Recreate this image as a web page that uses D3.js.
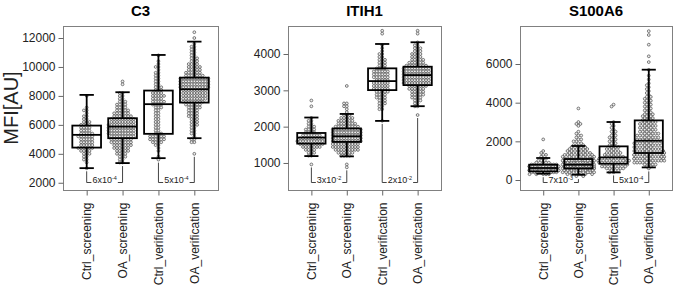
<!DOCTYPE html>
<html>
<head>
<meta charset="utf-8">
<script src="https://cdn.jsdelivr.net/npm/d3@7"></script>
<style>
  body { margin: 0; background: #fff; }
  svg { display: block; font-family: "Liberation Sans", Arial, sans-serif; }
</style>
</head>
<body>
<div id="chart"></div>
<script>
"use strict";

// groups on the x axis (same in every panel)
var groups = ["Ctrl_screening", "OA_screening", "Ctrl_verification", "OA_verification"];
var proteins = ["C3", "ITIH1", "S100A6"];

// y ranges and tick labels
var c3Domain = [1500, 12830];
var itih1Domain = [256, 4771];
var s100a6Domain = [-517, 7966];
var c3Ticks = [2000, 4000, 6000, 8000, 10000, 12000];
var itih1Ticks = [1000, 2000, 3000, 4000];
var s100a6Ticks = [0, 2000, 4000, 6000];

// box stats per group: [lower whisker, q1, median, q3, upper whisker]
var c3Box = [[3010, 4430, 5310, 5950, 8070], [3360, 5080, 5880, 6460, 8255],
             [3700, 5380, 7430, 8370, 10830], [5080, 7540, 8460, 9260, 11750]];
var itih1Box = [[1190, 1533, 1700, 1826, 2251], [1182, 1580, 1735, 1950, 2350],
                [2158, 3006, 3254, 3605, 4276], [2563, 3144, 3420, 3650, 4323]];
var s100a6Box = [[326, 445, 620, 792, 1138], [274, 600, 792, 1086, 1760],
                 [393, 843, 1170, 1740, 3000], [652, 1397, 2033, 3083, 5706]];

// samples per value bin: first bin value, bin width, counts
var c3Step = 200;
var c3Start = [3000, 3400, 3600, 4000];
var c3Counts = [
  [1,0,1,2,2,3,4,6,5,5,5,6,5,4,4,4,3,2,2,1,2,1,0,0,0,1],
  [2,2,3,4,5,6,7,8,8,9,10,10,10,10,9,9,7,6,5,4,4,3,2,2,2,0,0,1,1],
  [1,1,0,1,1,2,4,6,6,3,2,2,2,2,2,2,2,2,3,4,5,4,5,4,3,3,2,2,2,2,2,1,2,1,1,0,1],
  [1,0,0,0,2,2,1,2,2,2,3,3,3,4,4,4,5,6,8,9,9,9,9,11,11,11,11,7,6,5,5,4,3,3,2,2,2,2,1,0,1,0,1]
];
var itih1Step = 80;
var itih1Start = [960, 880, 2160, 2320];
var itih1Counts = [
  [1,0,0,2,3,4,7,9,10,9,7,4,4,3,2,2,1,0,0,0,1,0,1],
  [1,1,0,0,4,6,9,10,10,11,11,11,11,11,9,7,6,5,3,1,1,2,2,0,0,0,0,0,1],
  [1,0,0,0,2,2,3,3,4,4,5,6,6,6,5,6,6,6,4,3,3,3,2,2,1,1,1,0,0,0,1,1],
  [1,0,0,2,2,3,4,5,5,6,7,10,10,10,10,10,10,8,6,5,4,4,3,3,2,1,0,0,1,1]
];
var s100a6Step = 100;
var s100a6Start = [300, 200, 400, 600];
var s100a6Counts = [
  [5,10,12,12,12,7,4,2,2,1,2,1,1,0,0,0,0,0,1],
  [2,6,10,14,20,22,18,15,13,10,8,7,6,5,5,4,3,2,2,2,1,2,1,1,0,0,1,2,1,0,0,0,0,0,0,1],
  [2,3,5,6,6,7,8,7,5,4,4,3,3,3,2,2,2,2,2,2,1,2,1,1,1,1,1,0,0,0,0,0,0,0,1,1],
  [1,2,4,6,7,8,8,8, 7,7,6,6,6,6,6, 5,5,5,5,4,4,4,4,4,4, 3,3,3,3,2,2,2,2,2,
   2,2,2,2,1,1,1,1,1,1, 1,0,1,0,1,0,0,1,0,0, 0,1,0,0,1,0,0,0,0,0, 1,0,0,0,0,1,0,1]
];

// p-values between groups 1-2 and 3-4: [mantissa, exponent]
var c3P = [[6, -4], [5, -4]];
var itih1P = [[3, -2], [2, -2]];
var s100a6P = [[7, -3], [5, -4]];

var width = 675, height = 290;
var plotTop = 26, plotBottom = 190;

var svg = d3.select("#chart").append("svg")
  .attr("width", width).attr("height", height);

// simple beeswarm: place each point as close to the centre as it can go, then wrap
var swarm = function(values, y, d, half) {
  var pts = values.map(function(v) { return { v: v, y: y(v), x: 0 }; })
                  .sort(function(a, b) { return a.y - b.y; });
  var placed = [];
  pts.forEach(function(p) {
    var near = placed.filter(function(q) { return Math.abs(q.y - p.y) < d; });
    var cands = [0];
    near.forEach(function(q) {
      var dx = Math.sqrt(d * d - (q.y - p.y) * (q.y - p.y));
      cands.push(q.x + dx, q.x - dx);
    });
    cands.sort(function(a, b) { return Math.abs(a) - Math.abs(b) || a - b; });
    for (var i = 0; i < cands.length; i++) {
      var c = cands[i];
      var ok = near.every(function(q) {
        return (q.x - c) * (q.x - c) + (q.y - p.y) * (q.y - p.y) >= d * d - 1e-6;
      });
      if (ok) { p.x = c; break; }
    }
    placed.push(p);
  });
  placed.forEach(function(p) {
    if (Math.abs(p.x) > half) {
      p.x = (((p.x + half) % (2 * half)) + 2 * half) % (2 * half) - half;
    }
  });
  return placed;
};

var drawPanel = function(left, right, name, domain, ticks, box, start, step, counts, pvals, yLabel) {
  var x = d3.scaleLinear().domain([0.34, 4.66]).range([left, right]);
  var y = d3.scaleLinear().domain(domain).range([plotBottom, plotTop]);
  var unit = x(2) - x(1);
  var g = svg.append("g");

  // title
  g.append("text")
   .attr("x", (left + right) / 2).attr("y", 16)
   .attr("text-anchor", "middle")
   .attr("font-size", 15).attr("font-weight", "bold")
   .text(name);

  // points
  counts.forEach(function(cs, gi) {
    var vals = [];
    cs.forEach(function(c, i) {
      for (var k = 0; k < c; k++) vals.push(start[gi] + i * step);
    });
    var pts = swarm(vals, y, 2.8, 16);
    g.append("g").selectAll("circle")
     .data(pts)
     .enter()
     .append("circle")
     .attr("cx", function(d) { return x(gi + 1) + d.x; })
     .attr("cy", function(d) { return d.y; })
     .attr("r", 1.4)
     .attr("fill", "#eeeeee")
     .attr("stroke", "#4a4a4a")
     .attr("stroke-width", 0.7);
  });

  // boxes
  var bw = 0.4 * unit, cw = 0.2 * unit;
  box.forEach(function(b, gi) {
    var cx = x(gi + 1);
    var bg = g.append("g").attr("stroke", "#000").attr("stroke-width", 1.8).attr("fill", "none");
    bg.append("line").attr("x1", cx).attr("x2", cx).attr("y1", y(b[0])).attr("y2", y(b[1]));
    bg.append("line").attr("x1", cx).attr("x2", cx).attr("y1", y(b[3])).attr("y2", y(b[4]));
    bg.append("line").attr("x1", cx - cw).attr("x2", cx + cw).attr("y1", y(b[0])).attr("y2", y(b[0]));
    bg.append("line").attr("x1", cx - cw).attr("x2", cx + cw).attr("y1", y(b[4])).attr("y2", y(b[4]));
    bg.append("rect").attr("x", cx - bw).attr("width", 2 * bw)
      .attr("y", y(b[3])).attr("height", y(b[1]) - y(b[3]));
    bg.append("line").attr("x1", cx - bw).attr("x2", cx + bw).attr("y1", y(b[2])).attr("y2", y(b[2]));
  });

  // p-value brackets
  var by = plotBottom - 7.5;
  pvals.forEach(function(p, pi) {
    var a = pi * 2, b = a + 1;
    var xa = x(a + 1), xb = x(b + 1);
    var lowA = Math.min(box[a][0], start[a]), lowB = Math.min(box[b][0], start[b]);
    var t = g.append("text")
      .attr("x", (xa + xb) / 2).attr("y", by + 0.5)
      .attr("text-anchor", "middle")
      .attr("font-size", 9).attr("fill", "#222");
    t.append("tspan").text(p[0] + "x10");
    t.append("tspan").attr("font-size", 5.5).attr("dy", -3.5).text("-" + Math.abs(p[1]));
    var tw = t.node().getComputedTextLength();
    var tl = (xa + xb) / 2 - tw / 2 - 1, tr = (xa + xb) / 2 + tw / 2 + 1;
    var lg = g.append("g").attr("stroke", "#444").attr("stroke-width", 1).attr("fill", "none");
    lg.append("path").attr("d", "M" + xa + "," + (y(lowA) + 3) + "V" + by + "H" + tl);
    lg.append("path").attr("d", "M" + xb + "," + (y(lowB) + 3) + "V" + by + "H" + tr);
  });

  // frame
  g.append("rect")
   .attr("x", left + 0.5).attr("y", plotTop + 0.5)
   .attr("width", right - left).attr("height", plotBottom - plotTop)
   .attr("fill", "none").attr("stroke", "#808080").attr("stroke-width", 1);

  // y axis
  var ya = g.append("g")
    .attr("transform", "translate(" + (left + 0.5) + ",0)")
    .call(d3.axisLeft(y).tickValues(ticks).tickSize(5).tickPadding(3).tickFormat(d3.format("d")));
  ya.select(".domain").remove();
  ya.selectAll("line").attr("stroke", "#666");
  ya.selectAll("text").attr("font-size", 12).attr("fill", "#222")
    .attr("font-family", "Liberation Sans, Arial, sans-serif");

  // x axis
  var xa2 = g.append("g")
    .attr("transform", "translate(0," + (plotBottom + 0.5) + ")")
    .call(d3.axisBottom(x).tickValues([1, 2, 3, 4]).tickSize(5)
            .tickFormat(function(d) { return groups[d - 1]; }));
  xa2.select(".domain").remove();
  xa2.selectAll("line").attr("stroke", "#666");
  xa2.selectAll("text")
     .attr("font-size", 12).attr("fill", "#222")
     .attr("font-family", "Liberation Sans, Arial, sans-serif")
     .attr("transform", "rotate(-90)")
     .attr("text-anchor", "end")
     .attr("x", -12).attr("y", 0).attr("dy", "0.35em");

  if (yLabel) {
    g.append("text")
     .attr("transform", "translate(18," + ((plotTop + plotBottom) / 2) + ") rotate(-90)")
     .attr("text-anchor", "middle")
     .attr("font-size", 20).attr("fill", "#222")
     .text(yLabel);
  }
};

drawPanel(63, 218, proteins[0], c3Domain, c3Ticks, c3Box, c3Start, c3Step, c3Counts, c3P, "MFI[AU]");
drawPanel(288, 441, proteins[1], itih1Domain, itih1Ticks, itih1Box, itih1Start, itih1Step, itih1Counts, itih1P, null);
drawPanel(520, 672, proteins[2], s100a6Domain, s100a6Ticks, s100a6Box, s100a6Start, s100a6Step, s100a6Counts, s100a6P, null);
</script>
</body>
</html>
